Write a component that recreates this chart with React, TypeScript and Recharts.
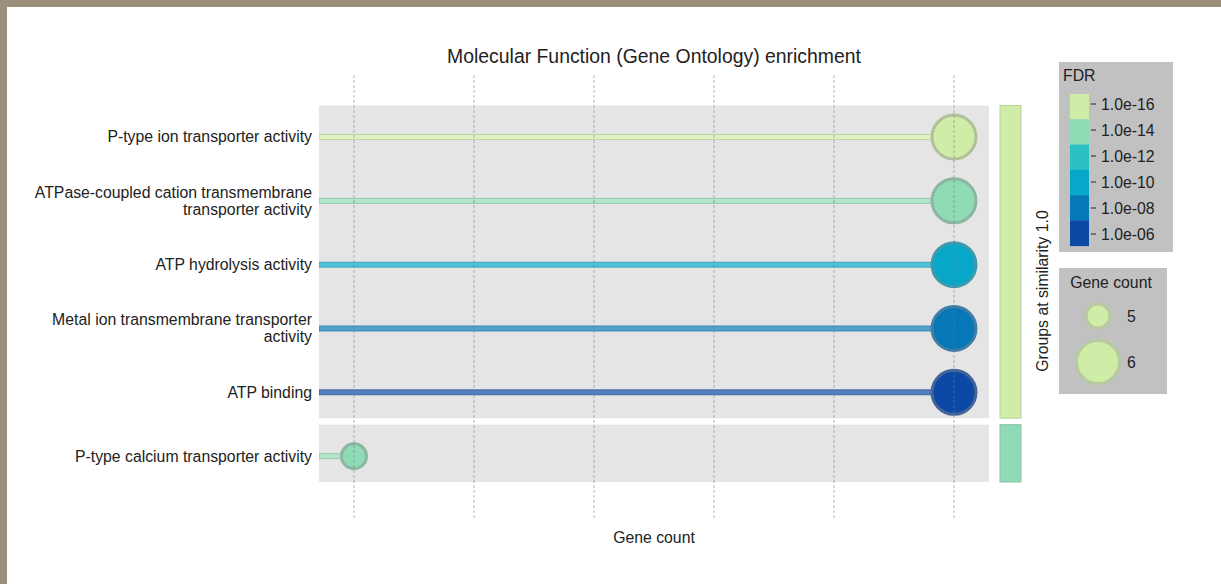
import React from "react";
import {
  Bar,
  ComposedChart,
  ReferenceArea,
  ReferenceLine,
  XAxis,
  YAxis,
} from "recharts";

const terms = [
  "P-type ion transporter activity",
  "ATPase-coupled cation transmembrane\ntransporter activity",
  "ATP hydrolysis activity",
  "Metal ion transmembrane transporter\nactivity",
  "ATP binding",
  "P-type calcium transporter activity",
];
const geneCounts = [6, 6, 6, 6, 6, 1];
const fdrValues = [1.2e-16, 1.1e-14, 1.0e-10, 1.0e-8, 1.1e-6, 1.3e-14];
const groupIds = [1, 1, 1, 1, 1, 2];

const xTicks = [1, 2, 3, 4, 5, 6];
const fdrSteps = [-16, -14, -12, -10, -8, -6];
const fdrLabels = ["1.0e-16", "1.0e-14", "1.0e-12", "1.0e-10", "1.0e-08", "1.0e-06"];
const fdrColors = ["#d0eda8", "#8fdbb5", "#2bc0c2", "#06a7c9", "#0678b8", "#0c48a6"];
const sizeLegend = [5, 6];

const FONT = '"Liberation Sans", Arial, Helvetica, sans-serif';
const TEXT = "#222";
const FS = 15.8;

function hex(c: string) {
  const n = parseInt(c.slice(1), 16);
  return [(n >> 16) & 255, (n >> 8) & 255, n & 255];
}

function mix(a: string, b: string, t: number) {
  const x = hex(a);
  const y = hex(b);
  const out = x.map((v, i) => Math.round(v * (1 - t) + y[i] * t));
  return "#" + out.map((v) => v.toString(16).padStart(2, "0")).join("");
}

function fdrColor(value: number) {
  const exp = Math.log10(value);
  let best = 0;
  fdrSteps.forEach((s, i) => {
    if (Math.abs(s - exp) < Math.abs(fdrSteps[best] - exp)) best = i;
  });
  return fdrColors[best];
}

function dotRadius(count: number) {
  return Math.max(12.5, 12 + (count - 5) * 10);
}

const rows = terms.map((term, i) => ({
  term,
  count: geneCounts[i],
  fdr: fdrValues[i],
  group: groupIds[i],
}));

const groups = Array.from(new Set(groupIds)).map((id) => {
  const first = groupIds.indexOf(id);
  const last = groupIds.lastIndexOf(id);
  return { id, from: terms[first], to: terms[last], color: fdrColor(fdrValues[first]) };
});

function Lollipop(props: any) {
  const { x, y, width, height, payload } = props;
  const cy = y + height / 2;
  const fill = fdrColor(payload.fdr);
  const edge = mix(fill, "#888888", 0.45);
  return (
    <g>
      <rect
        x={x}
        y={cy - 2.5}
        width={Math.max(width, 0)}
        height={5}
        fill={mix(fill, "#ffffff", 0.3)}
        stroke={mix(fill, "#888888", 0.3)}
        strokeWidth={0.8}
      />
      <circle
        cx={x + width}
        cy={cy}
        r={dotRadius(payload.count)}
        fill={fill}
        stroke={edge}
        strokeWidth={3}
      />
    </g>
  );
}

function GroupPanel(props: any) {
  const { x, y, width, height, color } = props;
  return (
    <g>
      <rect x={x} y={y + 0.5} width={width} height={height - 6.5} fill="#e5e5e5" />
      <rect
        x={x + width + 11}
        y={y + 0.5}
        width={21}
        height={height - 6.5}
        fill={color}
        stroke={mix(color, "#888888", 0.3)}
        strokeWidth={1}
      />
    </g>
  );
}

function TermTick({ x, y, payload }: any) {
  const lines = String(payload.value).split("\n");
  const lh = 17;
  return (
    <text x={x} y={y} textAnchor="end" fontSize={FS} fill={TEXT} fontFamily={FONT}>
      {lines.map((line, i) => (
        <tspan key={i} x={x} dy={i === 0 ? ((1 - lines.length) / 2) * lh + 5.5 : lh}>
          {line}
        </tspan>
      ))}
    </text>
  );
}

function Legends() {
  return (
    <svg
      width={1221}
      height={584}
      style={{ position: "absolute", left: 0, top: 0, pointerEvents: "none" }}
      fontFamily={FONT}
    >
      <text x={654} y={62.5} textAnchor="middle" fontSize={19.4} fill={TEXT}>
        Molecular Function (Gene Ontology) enrichment
      </text>

      <text
        x={1042}
        y={291}
        dy="0.35em"
        textAnchor="middle"
        fontSize={FS}
        fill={TEXT}
        transform="rotate(-90 1042 291)"
      >
        Groups at similarity 1.0
      </text>

      <rect x={1059} y={62} width={114} height={190} fill="#c1c1c1" />
      <text x={1063} y={80.5} fontSize={FS} fill={TEXT}>
        FDR
      </text>
      {fdrColors.map((c, i) => (
        <rect key={c} x={1070} y={94 + i * 25.3} width={19} height={25.6} fill={c} />
      ))}
      {fdrLabels.map((label, i) => (
        <g key={label}>
          <line x1={1091} x2={1096} y1={104 + i * 26} y2={104 + i * 26} stroke={TEXT} strokeWidth={1} />
          <text x={1101} y={104 + i * 26 + 5.5} fontSize={FS} fill={TEXT}>
            {label}
          </text>
        </g>
      ))}

      <rect x={1059} y={268} width={108} height={126} fill="#c1c1c1" />
      <text x={1111} y={287.5} textAnchor="middle" fontSize={FS} fill={TEXT}>
        Gene count
      </text>
      {sizeLegend.map((n, i) => {
        const cy = i === 0 ? 316 : 362;
        return (
          <g key={n}>
            <circle
              cx={1098}
              cy={cy}
              r={dotRadius(n) - 0.5}
              fill={fdrColors[0]}
              stroke={mix(fdrColors[0], "#888888", 0.35)}
              strokeWidth={3}
            />
            <text x={1127} y={cy + 5.5} fontSize={FS} fill={TEXT}>
              {n}
            </text>
          </g>
        );
      })}
    </svg>
  );
}

export default function App() {
  return (
    <div
      style={{
        position: "fixed",
        left: 0,
        top: 0,
        width: 1221,
        height: 584,
        background: "#fff",
        overflow: "hidden",
      }}
    >
      <div style={{ position: "absolute", left: 0, top: 0, width: 1221, height: 7, background: "#9b9079" }} />
      <div style={{ position: "absolute", left: 0, top: 0, width: 7, height: 584, background: "#9b9079" }} />
      <div style={{ position: "absolute", left: 0, top: 0 }}>
        <ComposedChart
          width={1221}
          height={584}
          data={rows}
          layout="vertical"
          margin={{ top: 73, right: 232, bottom: 26, left: 19 }}
        >
          <XAxis
            type="number"
            dataKey="count"
            domain={[0.7083, 6.2917]}
            allowDataOverflow
            ticks={xTicks}
            tick={false}
            tickLine={false}
            axisLine={false}
            height={40}
            label={{
              value: "Gene count",
              position: "insideBottom",
              offset: 15,
              fontSize: FS,
              fill: TEXT,
              fontFamily: FONT,
            }}
          />
          <YAxis
            type="category"
            dataKey="term"
            width={300}
            interval={0}
            tickLine={false}
            axisLine={false}
            tickSize={0}
            tickMargin={7}
            tick={<TermTick />}
            padding={{ top: 32, bottom: 30 }}
          />

          {groups.map((g) => (
            <ReferenceArea
              key={g.id}
              y1={g.from}
              y2={g.to}
              zIndex={-50}
              shape={(p: any) => <GroupPanel {...p} color={g.color} />}
            />
          ))}

          <Bar
            dataKey="count"
            barSize={10}
            isAnimationActive={false}
            shape={(p: any) => <Lollipop {...p} />}
          />

          {xTicks.map((t) => (
            <ReferenceLine
              key={t}
              x={t}
              zIndex={700}
              stroke="rgba(120,120,120,0.55)"
              strokeWidth={1}
              strokeDasharray="3 2"
            />
          ))}
        </ComposedChart>
      </div>
      <Legends />
    </div>
  );
}
